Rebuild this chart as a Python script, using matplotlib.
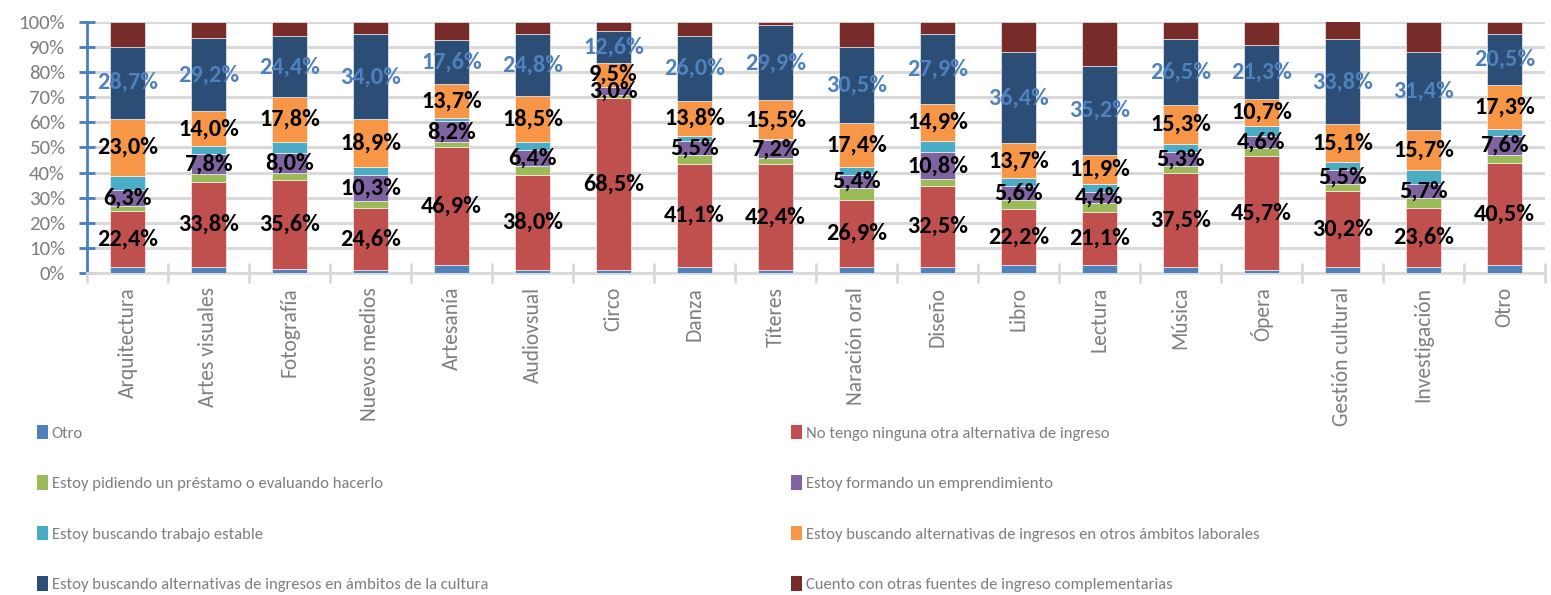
import numpy as np
import matplotlib.pyplot as plt
from matplotlib.patches import Patch

categories = ["Arquitectura", "Artes visuales", "Fotografía", "Nuevos medios", "Artesanía",
              "Audiovsual", "Circo", "Danza", "Títeres", "Naración oral", "Diseño", "Libro",
              "Lectura", "Música", "Ópera", "Gestión cultural", "Investigación", "Otro"]

series_names = ["Otro",
                "No tengo ninguna otra alternativa de ingreso",
                "Estoy pidiendo un préstamo o evaluando hacerlo",
                "Estoy formando un emprendimiento",
                "Estoy buscando trabajo estable",
                "Estoy buscando alternativas de ingresos en otros ámbitos laborales",
                "Estoy buscando alternativas de ingresos en ámbitos de la cultura",
                "Cuento con otras fuentes de ingreso complementarias"]

otro = [2.4, 2.4, 1.6, 1.1, 3.3, 1.1, 1.1, 2.3, 1.1, 2.3, 2.3, 3.3, 3.3, 2.3, 1.1, 2.3, 2.3, 3.3]
sin_alternativa = [22.4, 33.8, 35.6, 24.6, 46.9, 38.0, 68.5, 41.1, 42.4, 26.9, 32.5, 22.2, 21.1, 37.5, 45.7, 30.2, 23.6, 40.5]
prestamo = [2.0, 3.4, 2.5, 3.1, 2.0, 3.5, 1.5, 3.6, 2.3, 4.5, 2.5, 3.5, 3.5, 3.0, 3.0, 3.0, 4.0, 3.2]
emprendimiento = [6.3, 7.8, 8.0, 10.3, 8.2, 6.4, 3.0, 5.5, 7.2, 5.4, 10.8, 5.6, 4.4, 5.3, 4.6, 5.5, 5.7, 7.6]
trabajo_estable = [5.4, 3.0, 4.5, 3.2, 1.2, 3.1, 0.2, 2.2, 0.3, 3.1, 4.4, 3.3, 3.0, 3.4, 4.3, 3.2, 5.5, 2.9]
otros_ambitos = [23.0, 14.0, 17.8, 18.9, 13.7, 18.5, 9.5, 13.8, 15.5, 17.4, 14.9, 13.7, 11.9, 15.3, 10.7, 15.1, 15.7, 17.3]
cultura = [28.7, 29.2, 24.4, 34.0, 17.6, 24.8, 12.6, 26.0, 29.9, 30.5, 27.9, 36.4, 35.2, 26.5, 21.3, 33.8, 31.4, 20.5]
complementarias = [9.8, 6.4, 5.6, 4.8, 7.1, 4.6, 3.6, 5.5, 1.3, 9.9, 4.7, 12.0, 17.6, 6.7, 9.3, 7.4, 11.8, 4.7]

data = [otro, sin_alternativa, prestamo, emprendimiento, trabajo_estable, otros_ambitos, cultura, complementarias]
colors = ["#4f81bd", "#c0504d", "#9bbb59", "#8064a2", "#4bacc6", "#f79646", "#2c4d75", "#772c2a"]
labeled = {1: "black", 3: "black", 5: "black", 6: "#4f81bd"}

plt.rcParams["font.family"] = ["Carlito", "Liberation Sans", "DejaVu Sans"]

fig = plt.figure(figsize=(15.51, 5.95), dpi=100)
ax = fig.add_axes([87 / 1551, 1 - 273 / 595, 1458 / 1551, 251 / 595])

x = np.arange(len(categories))
bottom = np.zeros(len(categories))
for i, vals in enumerate(data):
    vals = np.array(vals, dtype=float)
    ax.bar(x, vals, 0.43, bottom=bottom, color=colors[i], edgecolor="white", linewidth=0.4, zorder=3)
    if i in labeled:
        for xi, v, b in zip(x, vals, bottom):
            ax.text(xi, b + v / 2, f"{v:.1f}%".replace(".", ","), ha="center", va="center",
                    fontsize=17.5, fontweight="bold", color=labeled[i], zorder=5)
    bottom += vals

ax.set_xlim(-0.5, len(categories) - 0.5)
ax.set_ylim(0, 100)
ax.set_yticks(np.arange(0, 101, 10))
ax.set_yticklabels([f"{t}%" for t in range(0, 101, 10)], color="#7f7f7f", fontsize=15)
ax.set_xticks(x)
ax.set_xticklabels(categories, rotation=90, color="#7f7f7f", fontsize=15.5)
ax.tick_params(axis="x", length=0, pad=10)
ax.set_xticks(np.arange(-0.5, len(categories), 1), minor=True)
ax.tick_params(axis="x", which="minor", direction="inout", length=14, width=2, color="#d9d9d9")
ax.tick_params(axis="y", direction="inout", length=12, width=2, color="#4a7ebb", pad=10)

ax.grid(axis="y", color="#d9d9d9", linewidth=2.2, zorder=0)
for s in ["top", "right"]:
    ax.spines[s].set_visible(False)
ax.spines["left"].set_color("#4a7ebb")
ax.spines["left"].set_linewidth(2)
ax.spines["bottom"].set_color("#d9d9d9")
ax.spines["bottom"].set_linewidth(2)

handles = [Patch(facecolor=c) for c in colors]
for col, x0 in [(0, 30 / 1551), (1, 784 / 1551)]:
    leg = fig.legend(handles[col::2], series_names[col::2], loc="upper left",
                     bbox_to_anchor=(x0, 1 - 418 / 595), frameon=False, fontsize=12,
                     handlelength=0.66, handleheight=0.95, handletextpad=0.25, labelspacing=2.08,
                     borderaxespad=0)
    for t in leg.get_texts():
        t.set_color("#7f7f7f")

fig.savefig("out.png", dpi=100)
